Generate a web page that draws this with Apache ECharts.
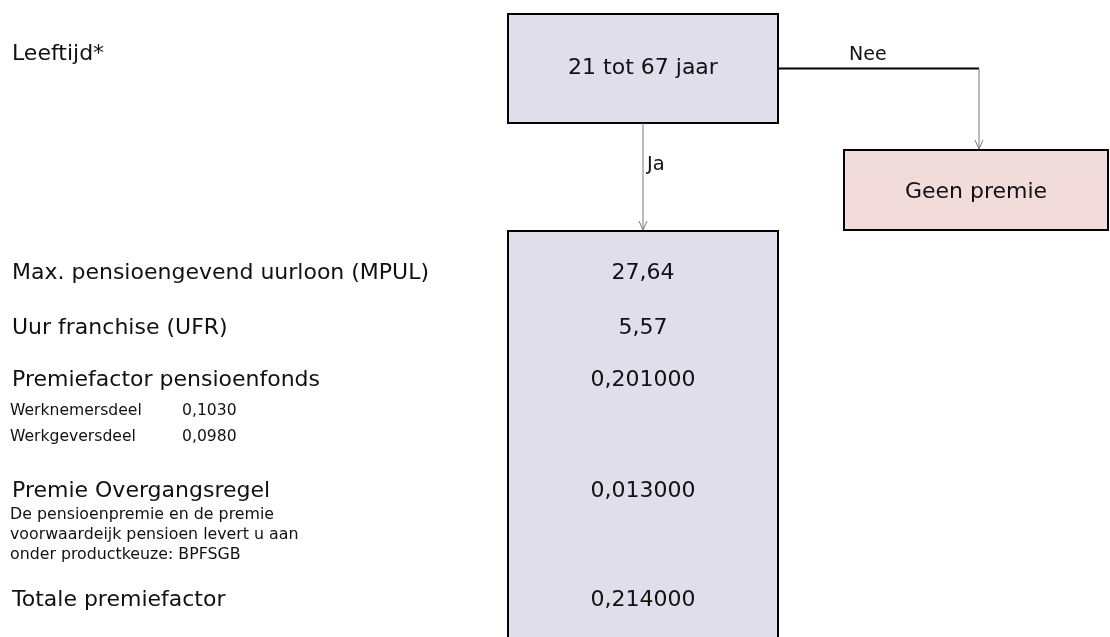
<!DOCTYPE html>
<html>
<head>
<meta charset="utf-8">
<script src="https://cdn.jsdelivr.net/npm/echarts@6/dist/echarts.min.js"></script>
<style>
html,body{margin:0;padding:0;background:#fff;}
#chart{width:1110px;height:637px;}
</style>
</head>
<body>
<div id="chart"></div>
<script>
// ---- data ----
const questionLabel = 'Leeftijd*';
const conditionText = '21 tot 67 jaar';
const yesLabel = 'Ja';
const noLabel = 'Nee';
const outcomeNo = 'Geen premie';
const rowLabels = ['Max. pensioengevend uurloon (MPUL)', 'Uur franchise (UFR)', 'Premiefactor pensioenfonds', 'Premie Overgangsregel', 'Totale premiefactor'];
const rowValues = ['27,64', '5,57', '0,201000', '0,013000', '0,214000'];
const subLabels = ['Werknemersdeel', 'Werkgeversdeel'];
const subValues = ['0,1030', '0,0980'];
const noteLines = ['De pensioenpremie en de premie', 'voorwaardeijk pensioen levert u aan', 'onder productkeuze: BPFSGB'];

// ---- layout (pixel-like coordinate space of the hidden axes) ----
const W = 1110, H = 637;
const FONT = '"DejaVu Sans", Verdana, sans-serif';
const rowY = [273, 328, 380, 491, 600];
const subY = [411, 437];
const noteY = [515, 535, 555];
const labelX = 12;
const valueX = 643;
const topBox = [508, 14, 778, 123];
const noBox = [844, 150, 1108, 230];
const mainBox = [508, 231, 778, 645];
const lavender = '#e1deec';
const pink = '#f2dcdb';

function renderAll(params, api) {
  const c = (x, y) => api.coord([x, y]);
  const children = [];
  function rect(b, fill) {
    const p0 = c(b[0], b[1]), p1 = c(b[2], b[3]);
    children.push({type: 'rect', shape: {x: p0[0], y: p0[1], width: p1[0] - p0[0], height: p1[1] - p0[1]},
      style: {fill: fill, stroke: '#000', lineWidth: 2}});
  }
  function text(t, x, y, size, align) {
    const p = c(x, y);
    children.push({type: 'text', style: {text: t, x: p[0], y: p[1], font: size + 'px ' + FONT,
      fill: '#111', align: align || 'left', verticalAlign: 'middle'}});
  }
  function line(pts, color, w) {
    children.push({type: 'polyline', shape: {points: pts.map(q => c(q[0], q[1]))},
      style: {stroke: color, lineWidth: w, fill: null}});
  }
  function arrowHead(x, y) {
    line([[x - 4, y - 9], [x, y], [x + 4, y - 9]], '#7a7a7a', 1);
  }
  // boxes
  rect(topBox, lavender);
  rect(noBox, pink);
  rect(mainBox, lavender);
  // connectors
  const yesX = (topBox[0] + topBox[2]) / 2;
  line([[yesX, topBox[3]], [yesX, mainBox[1] - 1]], '#7a7a7a', 1);
  arrowHead(yesX, mainBox[1] - 1);
  const midY = (topBox[1] + topBox[3]) / 2;
  const noX = 979;
  line([[topBox[2], midY], [noX, midY]], '#000', 2);
  line([[noX, midY], [noX, noBox[1] - 1]], '#7a7a7a', 1);
  arrowHead(noX, noBox[1] - 1);
  // texts
  text(questionLabel, labelX, 54, 22);
  text(conditionText, yesX, 68, 22, 'center');
  text(yesLabel, yesX + 4, 165, 19.5);
  text(noLabel, 849, 55, 19);
  text(outcomeNo, (noBox[0] + noBox[2]) / 2, 192, 22, 'center');
  rowLabels.forEach((t, i) => text(t, labelX, rowY[i], 22));
  rowValues.forEach((t, i) => text(t, valueX, rowY[i], 22, 'center'));
  subLabels.forEach((t, i) => { text(t, 10, subY[i], 15.6); text(subValues[i], 182, subY[i], 15.6); });
  noteLines.forEach((t, i) => text(t, 10, noteY[i], 15.8));
  return {type: 'group', children: children};
}

const chart = echarts.init(document.getElementById('chart'), null, {renderer: 'canvas'});
chart.setOption({
  animation: false,
  grid: {left: 0, right: 0, top: 0, bottom: 0},
  xAxis: {type: 'value', min: 0, max: W, show: false},
  yAxis: {type: 'value', min: 0, max: H, inverse: true, show: false},
  series: [{
    type: 'custom',
    coordinateSystem: 'cartesian2d',
    renderItem: renderAll,
    data: [[0, 0]],
    clip: false,
    silent: true
  }]
});
</script>
</body>
</html>
